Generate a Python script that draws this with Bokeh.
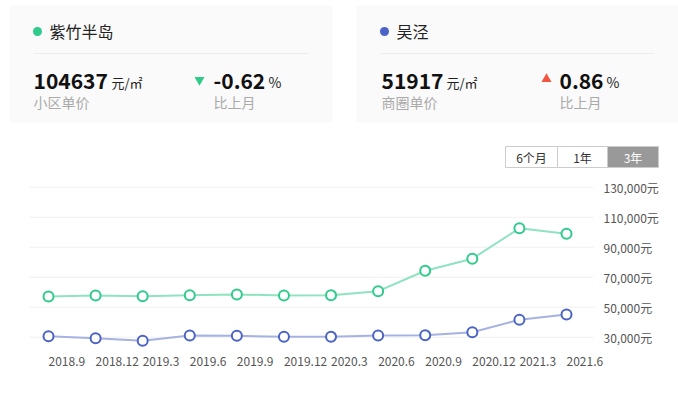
from bokeh.plotting import figure
from bokeh.models import Range1d, FixedTicker, LinearAxis
from bokeh.core.properties import value
from bokeh.embed import file_html
from bokeh.resources import INLINE

# ---- data ----
months = ["2018.9", "2018.12", "2019.3", "2019.6", "2019.9", "2019.12",
          "2020.3", "2020.6", "2020.9", "2020.12", "2021.3", "2021.6"]
zizhu = [57100, 57800, 57300, 58000, 58500, 57800,
         57900, 60700, 74300, 82300, 102600, 98900]
wujing = [30700, 29300, 27600, 31100, 30900, 30300,
          30300, 31100, 31300, 33300, 41600, 45100]
y_ticks = [30000, 50000, 70000, 90000, 110000, 130000]
y_tick_labels = ["30,000元", "50,000元", "70,000元", "90,000元", "110,000元", "130,000元"]

card_names = ["紫竹半岛", "吴泾"]
card_prices = ["104637", "51917"]
card_price_labels = ["小区单价", "商圈单价"]
card_changes = ["-0.62", "0.86"]
buttons = ["6个月", "1年", "3年"]

FONT = "Noto Sans CJK SC"
GREEN = "#2ecb8b"
GREEN_LINE = "#8fe3c0"
BLUE = "#4b63c6"
BLUE_LINE = "#a6b2e2"

W, H = 678, 404

# page-pixel coordinate system for the whole canvas
p = figure(width=W, height=H, output_backend="svg", toolbar_location=None,
           x_range=Range1d(0, W), y_range=Range1d(H, 0),
           x_axis_location=None, y_axis_location=None,
           min_border=0, outline_line_color=None)
p.grid.visible = False

# ---- cards ----
p.quad(left=[9, 356], right=[332, 678], top=[5, 5], bottom=[122, 122],
       fill_color="#fafafa", line_color=None)
p.segment(x0=[33, 380], y0=[53, 53], x1=[308, 654], y1=[53, 53],
          line_color="#ececec", line_width=1)
p.scatter(x=[37, 384], y=[31, 31], size=9, marker="circle",
          fill_color=[GREEN, BLUE], line_color=None)
p.text(x=[49, 396], y=[30.5, 30.5], text=card_names, text_font=value(FONT),
       text_font_size="16px", text_color="#222222", text_baseline="middle")
p.text(x=[33, 381], y=[80.5, 80.5], text=card_prices, text_font=value(FONT),
       text_font_size="21px", text_font_style="bold", text_color="#111111",
       text_baseline="middle")
p.text(x=[111, 446], y=[81.5, 81.5], text=["元/㎡", "元/㎡"], text_font=value(FONT),
       text_font_size="13px", text_color="#222222", text_baseline="middle")
p.text(x=[33, 381], y=[101.5, 101.5], text=card_price_labels, text_font=value(FONT),
       text_font_size="14px", text_color="#aaaaaa", text_baseline="middle")
p.scatter(x=[199], y=[79.5], size=10, marker="inverted_triangle",
          fill_color=GREEN, line_color=None)
p.scatter(x=[546], y=[78.5], size=10, marker="triangle",
          fill_color="#f2553d", line_color=None)
p.text(x=[213, 559], y=[80.5, 80.5], text=card_changes, text_font=value(FONT),
       text_font_size="21px", text_font_style="bold", text_color="#111111",
       text_baseline="middle")
p.text(x=[268, 606], y=[81.5, 81.5], text=["%", "%"], text_font=value(FONT),
       text_font_size="14px", text_color="#222222", text_baseline="middle")
p.text(x=[213, 559], y=[101.5, 101.5], text=["比上月", "比上月"], text_font=value(FONT),
       text_font_size="14px", text_color="#aaaaaa", text_baseline="middle")

# ---- range buttons ----
bl = [505, 557, 607]
br = [557, 607, 658]
p.quad(left=bl, right=br, top=[146] * 3, bottom=[167] * 3,
       fill_color=["#ffffff", "#ffffff", "#999999"], line_color="#cccccc", line_width=1)
p.text(x=[(a + b) / 2 for a, b in zip(bl, br)], y=[156.5] * 3, text=buttons,
       text_font=value(FONT), text_font_size="12px",
       text_color=["#333333", "#333333", "#ffffff"],
       text_align="center", text_baseline="middle")

# ---- line chart on its own scales ----
PX0, DPX = 48.0, (566 - 48) / 11          # x pixel of first month, px per month
PY30, KY = 336.7, 0.0015                  # y pixel of 30,000, px per unit


def cx(px):
    return (px - PX0) / DPX


def cy(py):
    return 30000 + (PY30 - py) / KY


p.extra_x_ranges = {"cx": Range1d(cx(0), cx(W))}
p.extra_y_ranges = {"cy": Range1d(cy(H), cy(0))}

xs = list(range(len(months)))
# grid lines
p.segment(x0=[cx(29)] * len(y_ticks), y0=y_ticks, x1=[cx(593)] * len(y_ticks), y1=y_ticks,
          line_color="#f0f0f0", line_width=1, x_range_name="cx", y_range_name="cy")

yaxis = LinearAxis(x_range_name="cx", y_range_name="cy", fixed_location=cx(593),
                   ticker=FixedTicker(ticks=y_ticks),
                   major_label_overrides={t: l for t, l in zip(y_ticks, y_tick_labels)})
yaxis.axis_line_color = None
yaxis.major_tick_line_color = None
yaxis.minor_tick_line_color = None
yaxis.major_label_standoff = 4
yaxis.major_label_text_font = FONT
yaxis.major_label_text_font_size = "12px"
yaxis.major_label_text_color = "#555555"
p.add_layout(yaxis, "right")

# month labels, left-aligned at each month's position
p.text(x=xs, y=[361] * len(xs), text=months, x_range_name="cx",
       text_font=value(FONT), text_font_size="12px", text_color="#555555",
       text_align="left", text_baseline="middle")

p.line(xs, zizhu, line_color=GREEN_LINE, line_width=2, x_range_name="cx", y_range_name="cy")
p.scatter(xs, zizhu, size=10, marker="circle", fill_color="white",
          line_color=GREEN, line_width=2, x_range_name="cx", y_range_name="cy")
p.line(xs, wujing, line_color=BLUE_LINE, line_width=2, x_range_name="cx", y_range_name="cy")
p.scatter(xs, wujing, size=10, marker="circle", fill_color="white",
          line_color=BLUE, line_width=2, x_range_name="cx", y_range_name="cy")

open("out.html", "w").write(file_html(p, INLINE))
